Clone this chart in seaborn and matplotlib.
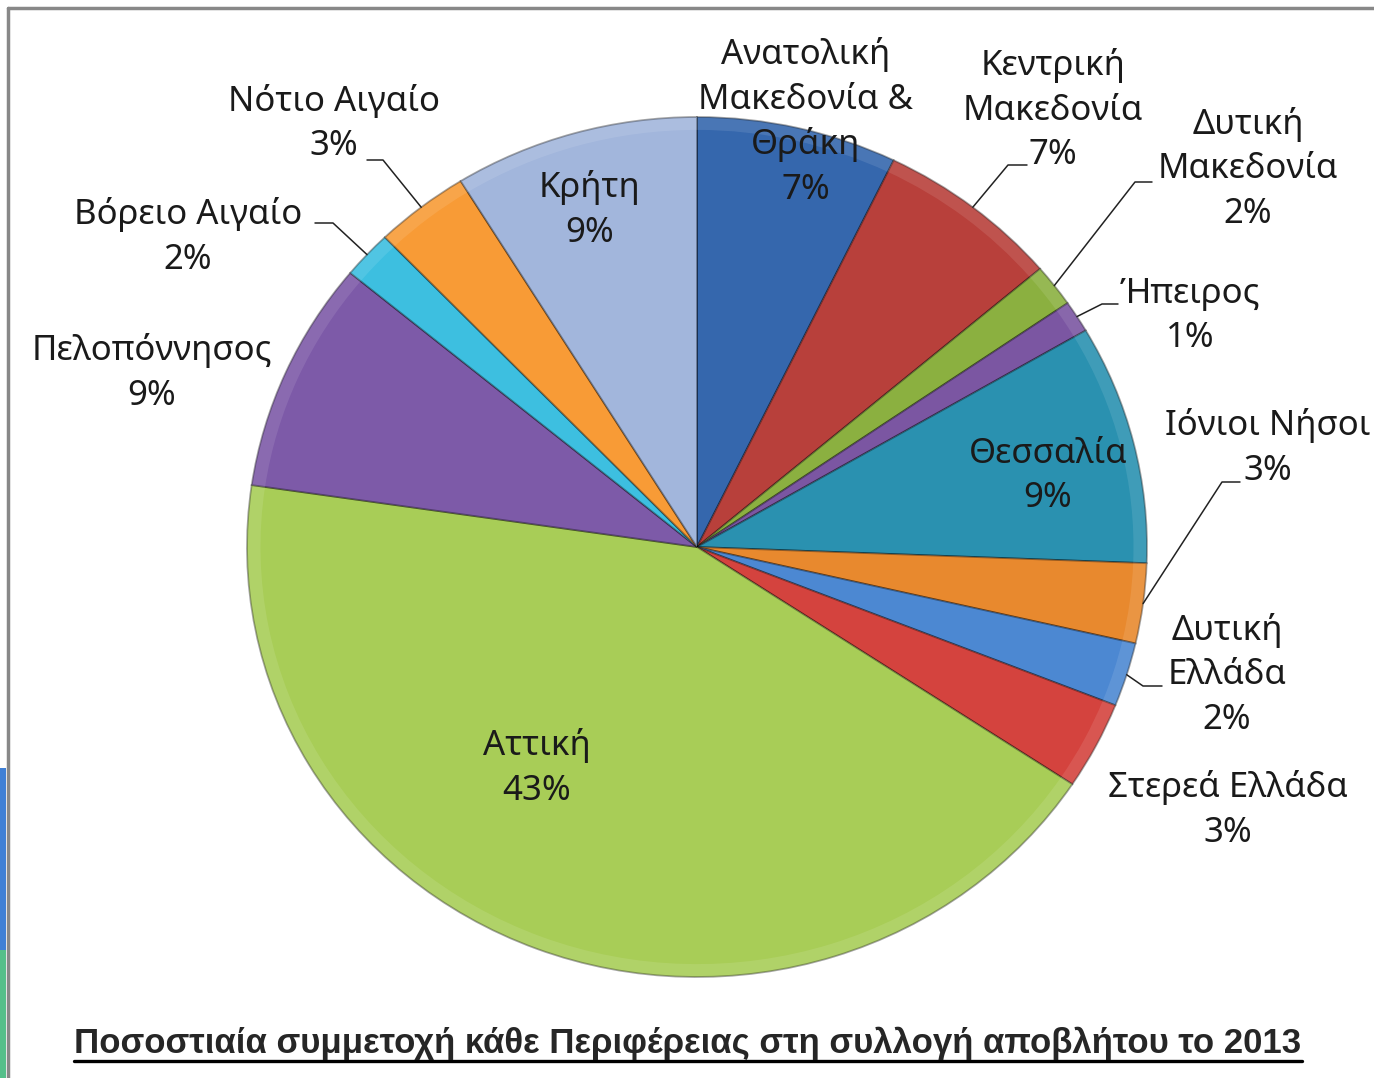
import matplotlib
matplotlib.use("Agg")
import matplotlib.pyplot as plt
import seaborn as sns
import numpy as np
from matplotlib.lines import Line2D
from matplotlib.patches import Rectangle

# data, clockwise from 12 o'clock
regions = [
    "Ανατολική\nΜακεδονία &\nΘράκη",
    "Κεντρική\nΜακεδονία",
    "Δυτική\nΜακεδονία",
    "Ήπειρος",
    "Θεσσαλία",
    "Ιόνιοι Νήσοι",
    "Δυτική\nΕλλάδα",
    "Στερεά Ελλάδα",
    "Αττική",
    "Πελοπόννησος",
    "Βόρειο Αιγαίο",
    "Νότιο Αιγαίο",
    "Κρήτη",
]
shares = [7.2, 6.6, 1.6, 1.2, 9.0, 3.0, 2.4, 3.3, 43.0, 8.7, 1.8, 3.4, 8.8]
colors = ["#3567ad", "#b8403b", "#8bb040", "#7b56a2", "#2a91b0", "#e8892e", "#4c88d2",
          "#d4433e", "#a8cd57", "#7d5aa8", "#3dbfe0", "#f89b36", "#a2b6dc"]
title = "Ποσοστιαία συμμετοχή κάθε Περιφέρειας στη συλλογή αποβλήτου το 2013"

# label placement (pixel positions of the text block centre) and leader elbows
label_pos = [(806, 122), (1053, 110), (1248, 169), (1190, 316), (1048, 476), (1268, 448),
             (1227, 675), (1228, 810), (537, 768), (152, 373), (188, 237), (334, 124),
             (590, 210)]
leaders = {1: [(1008, 165), (1027, 165)],
           2: [(1135, 182), (1152, 182)],
           3: [(1102, 304), (1118, 304)],
           5: [(1222, 482), (1240, 482)],
           6: [(1143, 686), (1162, 686)],
           10: [(333, 223), (315, 223)],
           11: [(383, 160), (367, 160)]}

sns.set_style("white")
plt.rcParams["font.family"] = ["Noto Sans", "DejaVu Sans"]

W, H = 1374, 1078
cx, cy, rx, ry = 697, 547, 450, 430

fig = plt.figure(figsize=(W / 100, H / 100), dpi=100)
ax = fig.add_axes([0, 0, 1, 1])


def px(xp, yp):
    return (xp - cx) / rx, (cy - yp) / ry


palette = sns.color_palette(colors)
wedges, _ = ax.pie(shares, colors=palette, startangle=90, counterclock=False, radius=1,
                   wedgeprops=dict(edgecolor=(0, 0, 0, 0.35), linewidth=1.3))
# light rim band for the bevelled look
ax.pie(shares, colors=[(1, 1, 1, 0.1)] * len(shares), startangle=90, counterclock=False,
       radius=1, wedgeprops=dict(width=0.03, linewidth=0))
ax.set_aspect("auto")
ax.set_xlim(-cx / rx, (W - cx) / rx)
ax.set_ylim(-(H - cy) / ry, cy / ry)
ax.axis("off")

cum = np.cumsum([0] + shares)
for i, name in enumerate(regions):
    x, y = px(*label_pos[i])
    ax.text(x, y, f"{name}\n{round(shares[i])}%", ha="center", va="center",
            fontsize=25, color="#1a1a1a", linespacing=1.4)
    if i in leaders:
        mid = np.deg2rad((cum[i] + shares[i] / 2) / 100 * 360)
        pts = [(np.sin(mid), np.cos(mid))] + [px(*p) for p in leaders[i]]
        ax.plot([p[0] for p in pts], [p[1] for p in pts], color="#222222", lw=1.1)

# frame lines of the original screenshot
fig.add_artist(Line2D([8 / W, 1], [1 - 8 / H, 1 - 8 / H], color="#888888", lw=2.5))
fig.add_artist(Line2D([8 / W, 8 / W], [0, 1 - 8 / H], color="#888888", lw=2.5))
fig.add_artist(Rectangle((0, 0), 6 / W, (H - 950) / H, color="#55bf8a", lw=0))
fig.add_artist(Rectangle((0, (H - 950) / H), 6 / W, (950 - 768) / H, color="#3f80d6", lw=0))

t = fig.text(688 / W, 1 - 1043 / H, title, ha="center", va="center", fontsize=25,
             fontweight="bold", family="Liberation Sans")
fig.canvas.draw()
bb = t.get_window_extent()
fig.add_artist(Line2D([bb.x0 / W, bb.x1 / W], [(bb.y0 - 1) / H, (bb.y0 - 1) / H],
                      color="black", lw=2.4))

fig.savefig("out.png", dpi=100)
